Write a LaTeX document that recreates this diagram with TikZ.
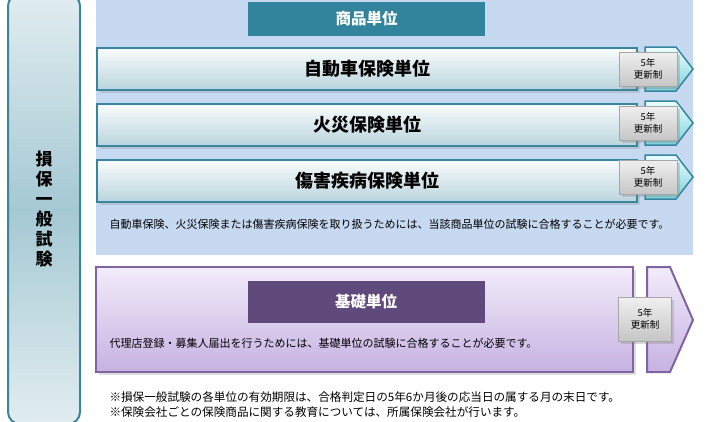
\documentclass[tikz,border=0pt]{standalone}
\usepackage{fontspec}
\setmainfont{Noto Sans CJK JP}
\usetikzlibrary{shadows}
\usetikzlibrary{positioning}
\definecolor{tealhead}{RGB}{49,132,155}
\definecolor{tealline}{RGB}{55,134,158}
\definecolor{bluebg}{RGB}{198,217,240}
\definecolor{purpleline}{RGB}{128,100,162}
\definecolor{purplehead}{RGB}{96,74,123}
\definecolor{purpletop}{RGB}{242,236,250}
\definecolor{purplebottom}{RGB}{198,178,226}

\begin{document}
\begin{tikzpicture}[x=1pt,y=-1pt,
  unitbar/.style={draw=tealline, line width=2pt, top color=white!85!tealline!20,
    bottom color=tealline!35, minimum width=540pt, minimum height=42pt,
    font=\fontsize{18}{20}\selectfont\bfseries, drop shadow={opacity=0.25}},
  headbox/.style={minimum width=237pt, text=white,
    font=\fontsize{15.5}{18}\selectfont\bfseries},
  renewbox/.style={draw=gray!70, top color=gray!12, bottom color=gray!45,
    align=center, inner sep=1pt, font=\fontsize{9.5}{11.5}\selectfont,
    drop shadow={opacity=0.3}},
  note/.style={anchor=west, font=\fontsize{11}{15}\selectfont}]
  \useasboundingbox (0,0) rectangle (710,421);

  % left column
  \shade[top color=tealline!15, bottom color=tealline!15, middle color=tealline!45,
    draw=tealline, line width=2pt, rounded corners=12pt] (8,-6) rectangle (80,424);
  \node[align=center, font=\fontsize{17}{20}\selectfont\bfseries] (sonpo) at (44,209)
    {損\\保\\一\\般\\試\\験};

  % product units
  \fill[bluebg] (96,-2) rectangle (693,255);
  \node[headbox, fill=tealhead, minimum height=34pt] (product) at (366.5,19) {商品単位};
  \foreach \y in {69,123,177} {
    \filldraw[draw=tealline, line width=1.5pt, top color=cyan!8, bottom color=cyan!35!tealline!60]
      (645,\y-22) -- (676,\y-22) -- (693,\y) -- (676,\y+22) -- (645,\y+22) -- cycle;
  }
  \node[unitbar] (car) at (367,69) {自動車保険単位};
  \node[unitbar, below=12pt of car] (fire) {火災保険単位};
  \node[unitbar, below=12pt of fire] (injury) {傷害疾病保険単位};
  \foreach \y/\name in {69/car,123/fire,177/injury} {
    \node[renewbox, minimum width=58pt, minimum height=34pt] (renew\name) at (648,\y) {5年\\更新制};
  }
  \node[note] (productnote) at (106,224)
    {自動車保険、火災保険または傷害疾病保険を取り扱うためには、当該商品単位の試験に合格することが必要です。};

  % basic unit
  \filldraw[draw=purpleline, line width=2pt, top color=purpletop, bottom color=purplebottom,
    drop shadow={opacity=0.25}] (96,267) rectangle (633,372);
  \filldraw[draw=purpleline, line width=2pt, top color=purpletop, bottom color=purplebottom]
    (647,267) -- (670,267) -- (693,320) -- (670,372) -- (647,372) -- cycle;
  \node[headbox, fill=purplehead, minimum height=42pt] (basic) at (366,302) {基礎単位};
  \node[note] (basicnote) at (106,343)
    {代理店登録・募集人届出を行うためには、基礎単位の試験に合格することが必要です。};
  \node[renewbox, minimum width=53pt, minimum height=44pt] (renewbasic) at (645,319) {5年\\更新制};

  % notes
  \node[note, align=left, font=\fontsize{11.6}{15}\selectfont] (footnote) at (106,404.5)
    {※損保一般試験の各単位の有効期限は、合格判定日の5年6か月後の応当日の属する月の末日です。\\
     ※保険会社ごとの保険商品に関する教育については、所属保険会社が行います。};
\end{tikzpicture}
\end{document}
